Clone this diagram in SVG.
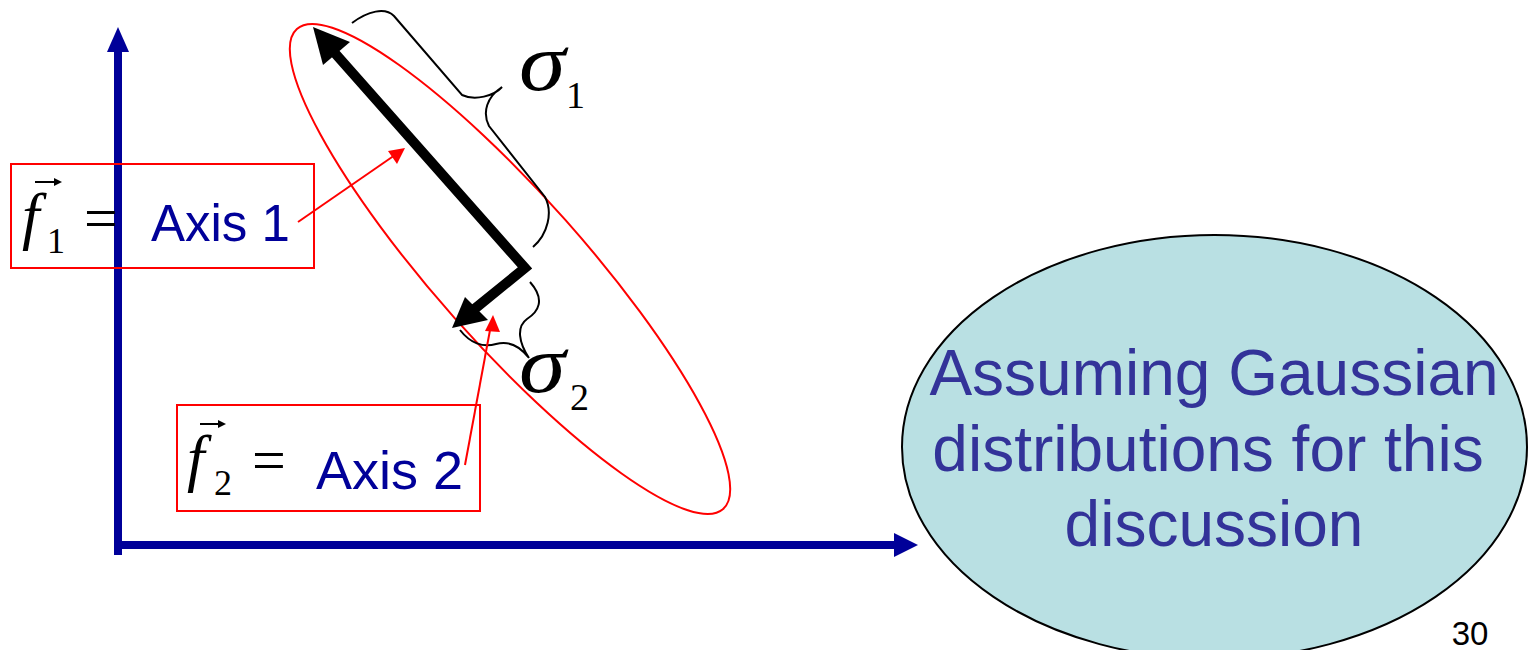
<svg xmlns="http://www.w3.org/2000/svg" width="1535" height="650" viewBox="0 0 1535 650">
<style>
.axis{stroke:#000099;stroke-width:8;fill:none}
.axhead{fill:#000099}
.red{stroke:#ff0000;fill:none;stroke-width:2}
.redfill{fill:#ff0000}
.blk{stroke:#000;stroke-width:10;fill:none;stroke-linejoin:miter;stroke-miterlimit:10}
.brace{stroke:#000;stroke-width:2;fill:none}
.math{font-family:"Liberation Serif",serif;fill:#000}
.lbl{font-family:"Liberation Sans",Arial,sans-serif;fill:#000099}
.gtext{font-family:"Liberation Sans",Arial,sans-serif;fill:#333399;font-size:64px;text-anchor:middle}
</style>
<rect width="1535" height="650" fill="#fff"/>
<g id="axes">
<line class="axis" x1="118" y1="555" x2="118" y2="48"/>
<polygon class="axhead" points="118,27 107,52 129,52"/>
<line class="axis" x1="114" y1="545" x2="898" y2="545"/>
<polygon class="axhead" points="918,545 894,533 894,557"/>
</g>
<g id="ellipse">
<ellipse class="red" cx="510" cy="269" rx="321" ry="74" transform="rotate(48.4 510 269)"/>
</g>
<g id="principal-axes">
<path class="blk" d="M333,51 L525,268 L472,311"/>
<polygon points="313,27 323,65 350,42" fill="#000"/>
<polygon points="452,328 465,297 488,320" fill="#000"/>
</g>
<g id="braces">
<path class="brace" d="M352,23 C368,11 385,7 394,16 L462,95 C475,101 494,96 502,87 C487,97 482,112 489,126 L545,197 C553,212 548,234 533,247"/>
<path class="brace" d="M530,282 C546,300 538,312 527,319 C516,327 519,343 529,358 M529,358 C519,345 507,341 496,344 C483,348 470,343 460,330"/>
</g>
<g id="sigma1">
<text class="math" transform="translate(519 90) scale(1.15 1)" font-size="82" font-style="italic">σ</text>
<text class="math" x="566" y="108" font-size="38">1</text>
</g>
<g id="sigma2">
<text class="math" transform="translate(519 392) scale(1.15 1)" font-size="82" font-style="italic">σ</text>
<text class="math" x="570" y="410" font-size="38">2</text>
</g>
<g id="connectors">
<line class="red" x1="298" y1="222" x2="395" y2="155"/>
<polygon class="redfill" points="405,148 388,151 397,164"/>
<line class="red" x1="465" y1="465" x2="490" y2="330"/>
<polygon class="redfill" points="493,315 485,331 500,332"/>
</g>
<g id="box-axis1">
<rect class="red" x="11" y="164" width="303" height="104" fill="#fff"/>
<text class="math" x="22" y="237" font-size="63" font-style="italic">f</text>
<line x1="35" y1="182" x2="58" y2="182" stroke="#000" stroke-width="2"/>
<polygon points="62,182 54,178 54,186" fill="#000"/>
<text class="math" x="47" y="253" font-size="36">1</text>
<text class="math" x="84" y="238" font-size="60">=</text>
<text class="lbl" x="151" y="241" font-size="51">Axis 1</text>
</g>
<g id="box-axis2">
<rect class="red" x="177" y="405" width="303" height="106" fill="#fff"/>
<text class="math" x="187" y="479" font-size="63" font-style="italic">f</text>
<line x1="200" y1="424" x2="222" y2="424" stroke="#000" stroke-width="2"/>
<polygon points="226,424 218,420 218,428" fill="#000"/>
<text class="math" x="214" y="495" font-size="36">2</text>
<text class="math" x="252" y="480" font-size="60">=</text>
<text class="lbl" x="316" y="489" font-size="54">Axis 2</text>
</g>
<g id="gaussian">
<ellipse cx="1214.5" cy="447" rx="312.5" ry="212" fill="#b9e0e3" stroke="#000" stroke-width="2"/>
<text class="gtext" x="1214" y="395">Assuming Gaussian</text>
<text class="gtext" x="1208" y="471">distributions for this</text>
<text class="gtext" x="1214" y="546">discussion</text>
</g>
<g id="page">
<text x="1470" y="645" font-family="Liberation Sans,Arial,sans-serif" font-size="33" text-anchor="middle" fill="#000">30</text>
</g>
</svg>
